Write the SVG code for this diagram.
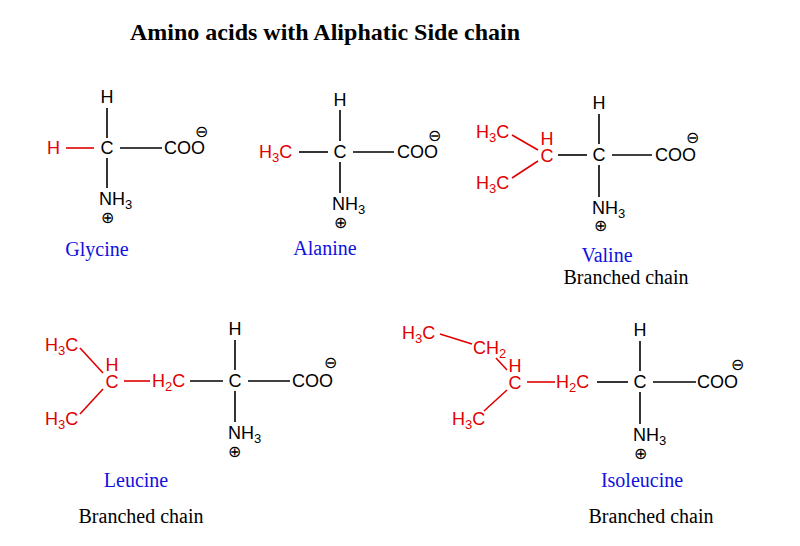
<svg xmlns="http://www.w3.org/2000/svg" width="800" height="546" viewBox="0 0 800 546">
<style>
text{font-family:"Liberation Sans",Arial,sans-serif;font-size:18px;fill:#000}
.r{fill:#e00000}
.m{text-anchor:middle}
.s{font-size:13px}
.c{font-size:16px;text-anchor:middle}
.lab{font-family:"Liberation Serif","Times New Roman",serif;font-size:20px;fill:#1010e0;text-anchor:middle}
.bc{font-family:"Liberation Serif","Times New Roman",serif;font-size:20px;fill:#000;text-anchor:middle}
.t{font-family:"Liberation Serif","Times New Roman",serif;font-size:24px;font-weight:bold}
line{stroke:#000;stroke-width:1.6}
line.r{stroke:#e00000}
</style>
<rect width="800" height="546" fill="#fff"/>
<text class="t" x="130" y="40">Amino acids with Aliphatic Side chain</text>
<g id="connectors">
<line class="r" x1="66" y1="148" x2="94" y2="148"/><line x1="120" y1="148" x2="162" y2="148"/><line x1="107" y1="108" x2="107" y2="138"/><line x1="107" y1="158" x2="107" y2="188"/>
<line x1="299" y1="152" x2="328" y2="152"/><line x1="353" y1="152" x2="394" y2="152"/><line x1="340" y1="110" x2="340" y2="141"/><line x1="340" y1="162" x2="340" y2="193"/>
<line class="r" x1="512" y1="135" x2="538" y2="150"/><line class="r" x1="512" y1="178" x2="538" y2="161"/><line x1="558" y1="155" x2="587" y2="155"/><line x1="612" y1="155" x2="652" y2="155"/><line x1="599" y1="114" x2="599" y2="144"/><line x1="599" y1="165" x2="599" y2="197"/>
<line class="r" x1="80" y1="348" x2="103" y2="373"/><line class="r" x1="80" y1="414" x2="103" y2="389"/><line class="r" x1="124" y1="381" x2="150" y2="381"/><line x1="190" y1="381" x2="223" y2="381"/><line x1="248" y1="381" x2="290" y2="381"/><line x1="235" y1="340" x2="235" y2="370"/><line x1="235" y1="391" x2="235" y2="422"/>
<line class="r" x1="440" y1="334" x2="472" y2="344"/><line class="r" x1="496" y1="358" x2="507" y2="370"/><line class="r" x1="484" y1="411" x2="507" y2="390"/><line class="r" x1="527" y1="382" x2="555" y2="382"/><line x1="597" y1="382" x2="628" y2="382"/><line x1="653" y1="382" x2="696" y2="382"/><line x1="640" y1="341" x2="640" y2="371"/><line x1="640" y1="392" x2="640" y2="424"/>
</g>
<g id="glycine">
<text class="r" x="47" y="154">H</text><text class="m" x="107" y="154">C</text><text x="164" y="154">COO</text><text class="c" x="201" y="137">⊖</text>
<text class="m" x="107" y="103">H</text><text x="99" y="205">NH<tspan class="s" dy="4">3</tspan></text><text class="c" x="107" y="223">⊕</text>
<text class="lab" x="97" y="256">Glycine</text>
</g>
<g id="alanine">
<text class="r" x="259" y="158">H<tspan class="s" dy="4">3</tspan><tspan dy="-4">C</tspan></text><text class="m" x="340" y="158">C</text><text x="397" y="158">COO</text><text class="c" x="434" y="141">⊖</text>
<text class="m" x="340" y="106">H</text><text x="332" y="210">NH<tspan class="s" dy="4">3</tspan></text><text class="c" x="340" y="228">⊕</text>
<text class="lab" x="325" y="255">Alanine</text>
</g>
<g id="valine">
<text class="r" x="476" y="138">H<tspan class="s" dy="4">3</tspan><tspan dy="-4">C</tspan></text><text class="r" x="476" y="189">H<tspan class="s" dy="4">3</tspan><tspan dy="-4">C</tspan></text>
<text class="r m" x="547" y="145">H</text><text class="r m" x="547" y="162">C</text>
<text class="m" x="599" y="161">C</text><text x="655" y="161">COO</text><text class="c" x="692" y="143">⊖</text>
<text class="m" x="599" y="109">H</text><text x="592" y="214">NH<tspan class="s" dy="4">3</tspan></text><text class="c" x="600" y="231">⊕</text>
<text class="lab" x="607" y="262">Valine</text><text class="bc" x="626" y="284">Branched chain</text>
</g>
<g id="leucine">
<text class="r" x="45" y="351">H<tspan class="s" dy="4">3</tspan><tspan dy="-4">C</tspan></text><text class="r" x="45" y="425">H<tspan class="s" dy="4">3</tspan><tspan dy="-4">C</tspan></text>
<text class="r m" x="112" y="371">H</text><text class="r m" x="112" y="388">C</text>
<text class="r" x="152" y="387">H<tspan class="s" dy="4">2</tspan><tspan dy="-4">C</tspan></text>
<text class="m" x="235" y="387">C</text><text x="292" y="387">COO</text><text class="c" x="330" y="368">⊖</text>
<text class="m" x="235" y="335">H</text><text x="228" y="439">NH<tspan class="s" dy="4">3</tspan></text><text class="c" x="234" y="457">⊕</text>
<text class="lab" x="136" y="487">Leucine</text><text class="bc" x="141" y="523">Branched chain</text>
</g>
<g id="isoleucine">
<text class="r" x="402" y="339">H<tspan class="s" dy="4">3</tspan><tspan dy="-4">C</tspan></text>
<text class="r" x="473" y="354">CH<tspan class="s" dy="4">2</tspan></text>
<text class="r m" x="515" y="372">H</text><text class="r m" x="515" y="389">C</text>
<text class="r" x="452" y="425">H<tspan class="s" dy="4">3</tspan><tspan dy="-4">C</tspan></text>
<text class="r" x="556" y="388">H<tspan class="s" dy="4">2</tspan><tspan dy="-4">C</tspan></text>
<text class="m" x="640" y="388">C</text><text x="697" y="388">COO</text><text class="c" x="737" y="370">⊖</text>
<text class="m" x="640" y="336">H</text><text x="633" y="441">NH<tspan class="s" dy="4">3</tspan></text><text class="c" x="640" y="459">⊕</text>
<text class="lab" x="642" y="487">Isoleucine</text><text class="bc" x="651" y="523">Branched chain</text>
</g>
</svg>
